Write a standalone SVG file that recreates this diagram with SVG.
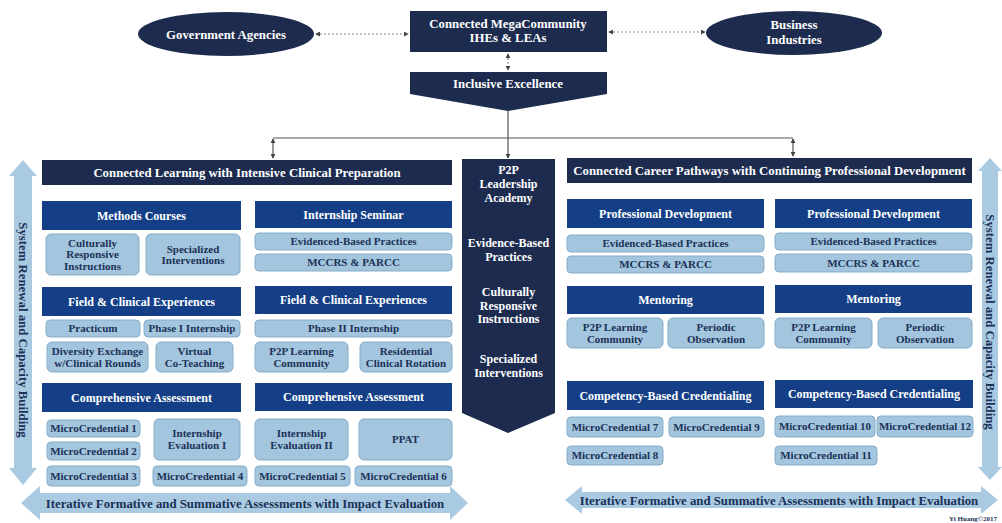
<svg xmlns="http://www.w3.org/2000/svg" width="1002" height="523" viewBox="0 0 1002 523">
<defs>
<style>
.navy{fill:#1c2b4e}
.sec{fill:#143f86}
.lt{fill:#a3c5dd;stroke:#86adca;stroke-width:1}
.la{fill:#a9cae1}
text{font-family:"Liberation Serif","Times New Roman",serif;font-weight:bold;text-anchor:middle}
.tw{fill:#ffffff}
.th{font-size:12.8px}
.ts{font-size:12px}
.tp{font-size:12px}
.td{fill:#1b3157;font-size:11px}
.tv{fill:#1b3157;font-size:12.8px}
.dash{stroke:#8a8a8a;stroke-width:1.2;stroke-dasharray:2 2;fill:none}
.solid{stroke:#555;stroke-width:1.2;fill:none}
</style>
<marker id="ah" viewBox="0 0 6 6" refX="5" refY="3" markerWidth="5" markerHeight="5" markerUnits="userSpaceOnUse" orient="auto-start-reverse">
<path d="M0,0 L6,3 L0,6 Z" fill="#444"/>
</marker>
</defs>

<g id="connectors">
<line class="dash" x1="316" y1="34" x2="408" y2="34" marker-start="url(#ah)" marker-end="url(#ah)"/>
<line class="dash" x1="609" y1="32" x2="705" y2="32" marker-start="url(#ah)" marker-end="url(#ah)"/>
<line class="dash" x1="508" y1="54" x2="508" y2="70" marker-start="url(#ah)" marker-end="url(#ah)"/>
<path class="solid" d="M508,111 V138"/>
<path class="solid" d="M273,138 H793"/>
<line class="solid" x1="273" y1="139" x2="273" y2="158" marker-start="url(#ah)" marker-end="url(#ah)"/>
<line class="solid" x1="793" y1="139" x2="793" y2="156" marker-start="url(#ah)" marker-end="url(#ah)"/>
<line class="solid" x1="508" y1="138" x2="508" y2="158" marker-end="url(#ah)"/>
</g>

<g id="government">
<ellipse class="navy" cx="226" cy="34" rx="88" ry="22"/>
<text class="tw th" x="226" y="38.5">Government Agencies</text>
</g>
<g id="megacommunity">
<rect class="navy" x="410" y="11" width="197" height="41"/>
<text class="tw th" x="508" y="28">Connected MegaCommunity</text>
<text class="tw th" x="508" y="42">IHEs &amp; LEAs</text>
</g>
<g id="business">
<ellipse class="navy" cx="794" cy="33" rx="88" ry="22"/>
<text class="tw th" x="794" y="29">Business</text>
<text class="tw th" x="794" y="44">Industries</text>
</g>
<g id="inclusive">
<polygon class="navy" points="410,72 607,72 607,94 508,111 410,94"/>
<text class="tw th" x="508" y="87.5">Inclusive Excellence</text>
</g>

<g id="sys-left">
<polygon class="la" points="23,160 37,176 32,176 32,468 37,468 23,485 9,468 14,468 14,176 9,176"/>
<text class="tv" transform="translate(23,330) rotate(90)" x="0" y="4.5">System Renewal and Capacity Building</text>
</g>
<g id="sys-right">
<polygon class="la" points="990,158 1002,171 998,171 998,467 1002,467 990,480 978,467 982,467 982,171 978,171"/>
<text class="tv" transform="translate(990,322) rotate(90)" x="0" y="4.5">System Renewal and Capacity Building</text>
</g>
<g id="iter-left">
<polygon class="la" points="21,503 40,486 40,493 450,493 450,486 468,503 450,520 450,513 40,513 40,520"/>
<text class="tv" x="245" y="507.5">Iterative Formative and Summative Assessments with Impact Evaluation</text>
</g>
<g id="iter-right">
<polygon class="la" points="565,500 582,486 582,492 981,492 981,486 998,500 981,514 981,508 582,508 582,514"/>
<text class="tv" x="779" y="504.5">Iterative Formative and Summative Assessments with Impact Evaluation</text>
</g>

<g id="left-header">
<rect class="navy" x="42" y="160" width="410" height="25"/>
<text class="tw th" x="247" y="177">Connected Learning with Intensive Clinical Preparation</text>
</g>
<g id="p2p-academy">
<polygon class="navy" points="462,159 555,159 555,413 508,433 462,413"/>
<text class="tw tp" x="508.5" y="174">P2P</text>
<text class="tw tp" x="508.5" y="188">Leadership</text>
<text class="tw tp" x="508.5" y="202">Academy</text>
<text class="tw tp" x="508.5" y="247">Evidence-Based</text>
<text class="tw tp" x="508.5" y="261">Practices</text>
<text class="tw tp" x="508.5" y="296">Culturally</text>
<text class="tw tp" x="508.5" y="309.5">Responsive</text>
<text class="tw tp" x="508.5" y="323">Instructions</text>
<text class="tw tp" x="508.5" y="363">Specialized</text>
<text class="tw tp" x="508.5" y="377">Interventions</text>
</g>
<g id="right-header">
<rect class="navy" x="567" y="158" width="405" height="25"/>
<text class="tw th" x="769.5" y="175">Connected Career Pathways with Continuing Professional Development</text>
</g>

<!-- Left column 1 -->
<g id="methods-courses"><rect class="sec" x="42" y="201" width="199" height="29"/><text class="tw ts" x="141.5" y="219.5">Methods Courses</text></g>
<g id="cri-1"><rect class="lt" x="46" y="234" width="93" height="41" rx="5"/><text class="td" x="92.5" y="246.8">Culturally</text><text class="td" x="92.5" y="258.3">Responsive</text><text class="td" x="92.5" y="269.8">Instructions</text></g>
<g id="si-1"><rect class="lt" x="146" y="234" width="94" height="41" rx="5"/><text class="td" x="193" y="252.5">Specialized</text><text class="td" x="193" y="264">Interventions</text></g>
<g id="fce-1"><rect class="sec" x="42" y="287" width="199" height="29"/><text class="tw ts" x="141.5" y="305.5">Field &amp; Clinical Experiences</text></g>
<g id="practicum"><rect class="lt" x="46" y="320" width="94" height="17" rx="4"/><text class="td" x="93" y="332.3">Practicum</text></g>
<g id="phase1"><rect class="lt" x="144" y="320" width="96" height="17" rx="4"/><text class="td" x="192" y="332.3">Phase I Internship</text></g>
<g id="diversity"><rect class="lt" x="47" y="342" width="101" height="30" rx="5"/><text class="td" x="97.5" y="355">Diversity Exchange</text><text class="td" x="97.5" y="367">w/Clinical Rounds</text></g>
<g id="virtual"><rect class="lt" x="156" y="342" width="77" height="30" rx="5"/><text class="td" x="194.5" y="355">Virtual</text><text class="td" x="194.5" y="367">Co-Teaching</text></g>
<g id="ca-1"><rect class="sec" x="42" y="383" width="199" height="29"/><text class="tw ts" x="141.5" y="401.5">Comprehensive Assessment</text></g>
<g id="mc1"><rect class="lt" x="47" y="420" width="93" height="17" rx="4"/><text class="td" x="93.5" y="432.3">MicroCredential 1</text></g>
<g id="ie1"><rect class="lt" x="154" y="419" width="86" height="41" rx="5"/><text class="td" x="197" y="437.3">Internship</text><text class="td" x="197" y="449.3">Evaluation I</text></g>
<g id="mc2"><rect class="lt" x="47" y="442" width="93" height="18" rx="4"/><text class="td" x="93.5" y="454.8">MicroCredential 2</text></g>
<g id="mc3"><rect class="lt" x="47" y="466" width="93" height="20" rx="4"/><text class="td" x="93.5" y="479.8">MicroCredential 3</text></g>
<g id="mc4"><rect class="lt" x="153" y="466" width="94" height="20" rx="4"/><text class="td" x="200" y="479.8">MicroCredential 4</text></g>

<!-- Left column 2 -->
<g id="internship-seminar"><rect class="sec" x="255" y="201" width="197" height="27"/><text class="tw ts" x="353.5" y="218.5">Internship Seminar</text></g>
<g id="ebp-1"><rect class="lt" x="255" y="233" width="197" height="17" rx="4"/><text class="td" x="353.5" y="245.3">Evidenced-Based Practices</text></g>
<g id="mccrs-1"><rect class="lt" x="255" y="254" width="197" height="17" rx="4"/><text class="td" x="353.5" y="266.3">MCCRS &amp; PARCC</text></g>
<g id="fce-2"><rect class="sec" x="255" y="286" width="197" height="28"/><text class="tw ts" x="353.5" y="304">Field &amp; Clinical Experiences</text></g>
<g id="phase2"><rect class="lt" x="255" y="320" width="197" height="17" rx="4"/><text class="td" x="353.5" y="332.3">Phase II Internship</text></g>
<g id="p2plc-1"><rect class="lt" x="255" y="342" width="93" height="30" rx="5"/><text class="td" x="301.5" y="355">P2P Learning</text><text class="td" x="301.5" y="367">Community</text></g>
<g id="residential"><rect class="lt" x="360" y="342" width="92" height="30" rx="5"/><text class="td" x="406" y="355">Residential</text><text class="td" x="406" y="367">Clinical Rotation</text></g>
<g id="ca-2"><rect class="sec" x="255" y="383" width="197" height="28"/><text class="tw ts" x="353.5" y="401">Comprehensive Assessment</text></g>
<g id="ie2"><rect class="lt" x="255" y="419" width="93" height="41" rx="5"/><text class="td" x="301.5" y="437.3">Internship</text><text class="td" x="301.5" y="449.3">Evaluation II</text></g>
<g id="ppat"><rect class="lt" x="359" y="419" width="93" height="41" rx="5"/><text class="td" x="405.5" y="443.3">PPAT</text></g>
<g id="mc5"><rect class="lt" x="255" y="466" width="95" height="20" rx="4"/><text class="td" x="302.5" y="479.8">MicroCredential 5</text></g>
<g id="mc6"><rect class="lt" x="355" y="466" width="97" height="20" rx="4"/><text class="td" x="403.5" y="479.8">MicroCredential 6</text></g>

<!-- Right column A -->
<g id="pd-a"><rect class="sec" x="567" y="199" width="197" height="29"/><text class="tw ts" x="665.5" y="217.5">Professional Development</text></g>
<g id="ebp-a"><rect class="lt" x="567" y="235" width="197" height="17" rx="4"/><text class="td" x="665.5" y="247.3">Evidenced-Based Practices</text></g>
<g id="mccrs-a"><rect class="lt" x="567" y="256" width="197" height="17" rx="4"/><text class="td" x="665.5" y="268.3">MCCRS &amp; PARCC</text></g>
<g id="mentoring-a"><rect class="sec" x="567" y="286" width="197" height="28"/><text class="tw ts" x="665.5" y="304">Mentoring</text></g>
<g id="p2plc-a"><rect class="lt" x="567" y="318" width="96" height="30" rx="5"/><text class="td" x="615" y="331">P2P Learning</text><text class="td" x="615" y="343">Community</text></g>
<g id="po-a"><rect class="lt" x="668" y="318" width="96" height="30" rx="5"/><text class="td" x="716" y="331">Periodic</text><text class="td" x="716" y="343">Observation</text></g>
<g id="cbc-a"><rect class="sec" x="567" y="381" width="197" height="29"/><text class="tw ts" x="665.5" y="399.5">Competency-Based Credentialing</text></g>
<g id="mc7"><rect class="lt" x="567" y="417" width="96" height="20" rx="4"/><text class="td" x="615" y="430.8">MicroCredential 7</text></g>
<g id="mc9"><rect class="lt" x="669" y="417" width="95" height="20" rx="4"/><text class="td" x="716.5" y="430.8">MicroCredential 9</text></g>
<g id="mc8"><rect class="lt" x="567" y="446" width="96" height="19" rx="4"/><text class="td" x="615" y="459.3">MicroCredential 8</text></g>

<!-- Right column B -->
<g id="pd-b"><rect class="sec" x="775" y="199" width="197" height="29"/><text class="tw ts" x="873.5" y="217.5">Professional Development</text></g>
<g id="ebp-b"><rect class="lt" x="775" y="233" width="197" height="17" rx="4"/><text class="td" x="873.5" y="245.3">Evidenced-Based Practices</text></g>
<g id="mccrs-b"><rect class="lt" x="775" y="254" width="197" height="18" rx="4"/><text class="td" x="873.5" y="266.8">MCCRS &amp; PARCC</text></g>
<g id="mentoring-b"><rect class="sec" x="775" y="285" width="197" height="28"/><text class="tw ts" x="873.5" y="303">Mentoring</text></g>
<g id="p2plc-b"><rect class="lt" x="775" y="318" width="97" height="30" rx="5"/><text class="td" x="823.5" y="331">P2P Learning</text><text class="td" x="823.5" y="343">Community</text></g>
<g id="po-b"><rect class="lt" x="878" y="318" width="94" height="30" rx="5"/><text class="td" x="925" y="331">Periodic</text><text class="td" x="925" y="343">Observation</text></g>
<g id="cbc-b"><rect class="sec" x="775" y="380" width="198" height="28"/><text class="tw ts" x="874" y="398">Competency-Based Credentialing</text></g>
<g id="mc10"><rect class="lt" x="775" y="416" width="100" height="21" rx="4"/><text class="td" x="825" y="430.3">MicroCredential 10</text></g>
<g id="mc12"><rect class="lt" x="877" y="416" width="96" height="21" rx="4"/><text class="td" x="925" y="430.3">MicroCredential 12</text></g>
<g id="mc11"><rect class="lt" x="775" y="446" width="102" height="19" rx="4"/><text class="td" x="826" y="459.3">MicroCredential 11</text></g>

<text x="997" y="521" style="text-anchor:end;font-size:7px;fill:#1b3157">Yi Huang©2017</text>
</svg>
